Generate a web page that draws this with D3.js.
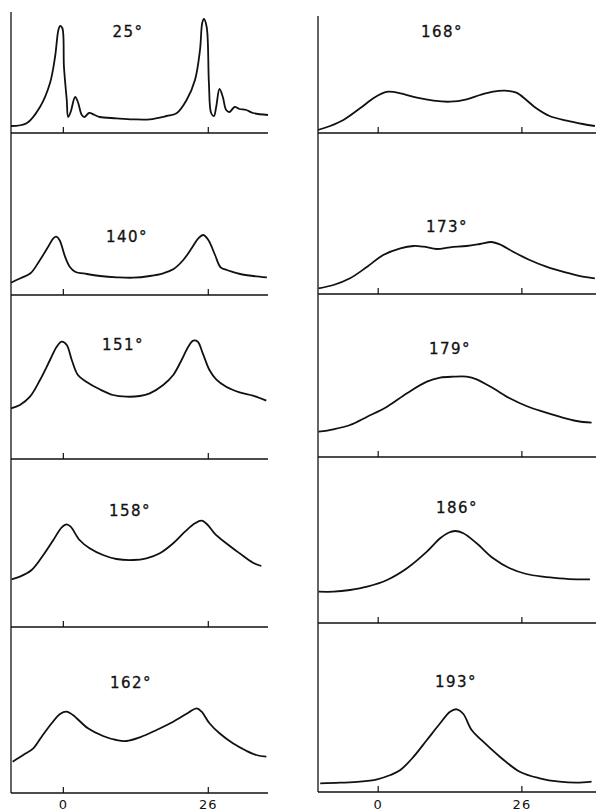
<!DOCTYPE html>
<html lang="en">
<head>
  <meta charset="UTF-8">
  <title>Spectra vs temperature</title>
  <script src="https://d3js.org/d3.v7.min.js"></script>
  <style>
    body { margin: 0; background: #fff; }
    svg { display: block; }
    .curve { fill: none; stroke: #111; stroke-width: 1.8; stroke-linejoin: round; }
    .axis-line { stroke: #111; stroke-width: 1.3; }
    .panel-label { font-family: "DejaVu Sans", sans-serif; font-size: 15px; letter-spacing: 1.5px; fill: #111; stroke: #111; stroke-width: 0.3; text-anchor: middle; }
    .tick-label { font-family: "DejaVu Sans", sans-serif; font-size: 13px; letter-spacing: 1px; fill: #111; text-anchor: middle; }
  </style>
</head>
<body>
<svg width="596" height="812"></svg>
<script>
  // x ticks shown on every baseline
  const tickValues = [0, 26];

  // panel labels (temperature)
  const leftLabels = ["25°", "140°", "151°", "158°", "162°"];
  const rightLabels = ["168°", "173°", "179°", "186°", "193°"];

  // series: [x, intensity]
  const s25 = [[-9.3,7],[-6.5,9.7],[-4.1,26],[-2.3,50],[-1.4,76],[-0.8,103],[-0.5,107],[-0.1,105],[0.2,66],[0.7,33],[0.95,16],[1.4,21],[2.2,36],[2.7,31],[3.4,18],[3.9,16],[4.7,20],[5.7,18],[6.6,16],[9.6,14.7],[12.6,13.7],[15.6,13.7],[18.6,17],[20.4,19.7],[22.2,33],[23.7,53],[24.6,83],[25.0,110],[25.3,114],[25.8,106],[26.2,50],[26.6,20],[27.1,17],[27.5,26],[28.1,44],[28.7,36],[29.3,23],[29.9,21],[30.8,26],[31.7,24],[32.9,23],[34.1,20],[36.8,18]];
  const s140 = [[-9.3,12.3],[-7.6,16.7],[-5.8,21.7],[-4.3,33.3],[-2.8,46.7],[-1.7,56.7],[-1.2,58.3],[-0.6,55],[0.4,38.3],[1.3,27.7],[2.2,23.3],[4.3,21],[6.7,19],[9.7,17.7],[12.6,17.3],[15.6,19],[18.0,21.7],[19.8,25.7],[21.6,35],[23.1,46.7],[24.3,56.7],[25.2,60],[26.1,55],[27.3,40],[28.3,27.7],[29.4,25],[30.3,23.3],[31.8,21],[34.2,19],[36.6,17.7]];
  const s151 = [[-9.3,50.7],[-7.7,54],[-5.9,62.3],[-4.1,79],[-2.3,99],[-1.1,112.3],[-0.2,117.3],[0.7,114],[1.6,99],[2.7,84],[4.2,77.3],[6.6,69.7],[9.0,64],[11.4,62.3],[13.8,63],[15.6,65.7],[18.0,74],[19.8,84],[21.3,99],[22.5,112.3],[23.4,118.3],[24.2,117.3],[25.1,105.7],[26.3,89],[27.5,79.7],[29.3,72.3],[31.7,66.7],[34.1,63.3],[36.5,58.3]];
  const s158 = [[-9.2,47.7],[-7.7,50.3],[-5.6,57],[-3.5,72],[-1.7,87],[-0.2,99.7],[0.7,102.7],[1.4,100.3],[3.0,87],[4.8,78.7],[7.2,72],[9.6,68],[12.6,67],[15.0,68.7],[17.4,73.7],[19.8,83.7],[21.9,95.3],[23.7,103.7],[24.9,106.3],[26.0,102],[27.2,93.7],[29.3,83.7],[31.7,73.7],[34.1,64.3],[35.6,61]];
  const s162 = [[-9.0,31.3],[-7.1,38],[-5.3,44.7],[-3.8,56.3],[-2.0,69.7],[-0.5,79],[0.7,81.3],[1.8,78],[4.5,64.7],[7.2,57],[9.6,53],[11.4,52],[13.8,55.7],[16.8,63],[19.8,71.3],[22.5,80.3],[24.0,84.7],[24.9,81.3],[26.3,69.7],[28.1,59.7],[30.5,49.7],[32.9,42.3],[34.7,38],[36.5,36.3]];
  const s168 = [[-10.8,3],[-8.6,7],[-6.2,13],[-3.2,24.7],[-0.8,34.7],[0.8,39.7],[1.9,41.3],[4.1,39.7],[7.1,35.3],[10.1,32.3],[13.1,31.3],[16.1,33.7],[18.5,38],[20.9,41.3],[23.0,42.3],[25.1,40.3],[26.9,33],[28.7,24.7],[31.1,17],[34.2,12.3],[37.1,9],[39.3,7]];
  const s173 = [[-10.7,5.7],[-8.0,9],[-5.0,15.7],[-1.9,27.3],[1.0,39],[4.1,45.7],[6.5,48],[8.3,47.3],[10.7,45],[13.1,46.7],[16.1,48],[18.5,50],[20.6,52],[22.1,49.7],[24.5,42.3],[27.5,34],[30.5,27.3],[34.2,21.3],[37.1,17.3],[39.3,15.7]];
  const s179 = [[-10.7,25.3],[-8.0,27.7],[-5.0,32],[-1.9,40.3],[1.7,50.3],[5.3,63.7],[8.9,75.3],[11.3,79.3],[13.7,80.3],[16.1,80.3],[17.9,77.7],[20.9,68.7],[23.9,58.7],[26.9,51],[29.9,45.3],[32.9,40.3],[36.0,36],[38.7,34.3]];
  const s186 = [[-10.7,31.3],[-8.0,31.3],[-5.0,33],[-1.9,36.3],[1.7,43],[5.3,54.7],[8.9,71.3],[11.3,84.7],[12.8,90.3],[14.0,92],[15.5,89.7],[17.9,79.7],[20.9,64.7],[23.9,54.7],[26.9,49],[29.9,46.3],[32.9,44.7],[36.0,43.7],[38.4,43.7]];
  const s193 = [[-10.4,8.7],[-6.8,9.3],[-3.2,10.3],[-0.1,12.7],[2.3,17],[4.1,22],[6.5,35.3],[8.9,52],[11.3,68.7],[13.1,80.3],[14.3,82.7],[15.5,78],[17.0,62],[19.1,50.3],[22.1,35.3],[25.7,20.3],[29.3,13.7],[32.9,10.3],[36.0,9.3],[38.7,10.3]];

  const leftSeries = [s25, s140, s151, s158, s162];
  const rightSeries = [s168, s173, s179, s186, s193];

  const svg = d3.select("svg");

  const columns = [
    {
      labels: leftLabels, series: leftSeries,
      xDomain: [-9.3, 36.8], xRange: [11, 268], top: 12,
      baselines: [133, 295, 459, 627, 793],
      labelPos: [[128, 37], [127, 242], [123, 350], [130, 516], [131, 688]]
    },
    {
      labels: rightLabels, series: rightSeries,
      xDomain: [-10.8, 39.5], xRange: [318, 596], top: 16,
      baselines: [133, 294, 457, 623, 792],
      labelPos: [[442, 37], [447, 232], [450, 354], [457, 513], [456, 687]]
    }
  ];

  columns.forEach(col => {
    const x = d3.scaleLinear().domain(col.xDomain).range(col.xRange);

    // left vertical axis spanning the whole column
    svg.append("line")
      .attr("class", "axis-line")
      .attr("x1", col.xRange[0]).attr("x2", col.xRange[0])
      .attr("y1", col.top).attr("y2", col.baselines[col.baselines.length - 1]);

    col.series.forEach((data, i) => {
      const base = col.baselines[i];
      const y = d3.scaleLinear().domain([0, 120]).range([base, base - 120]);
      const g = svg.append("g");

      // baseline with small upward ticks
      const axis = d3.axisTop(x).tickValues(tickValues).tickSize(6).tickFormat("");
      const ag = g.append("g")
        .attr("transform", `translate(0,${base})`)
        .call(axis);
      ag.select(".domain")
        .attr("d", `M${col.xRange[0]},0H${col.xRange[1]}`)
        .attr("stroke", "#111").attr("stroke-width", 1.5);
      ag.selectAll(".tick line").attr("stroke", "#111").attr("stroke-width", 1.2);

      const line = d3.line()
        .x(d => x(d[0]))
        .y(d => y(d[1]))
        .curve(d3.curveCatmullRom.alpha(0.5));

      g.append("path")
        .datum(data)
        .attr("class", "curve")
        .attr("d", line);

      g.append("text")
        .attr("class", "panel-label")
        .attr("x", col.labelPos[i][0])
        .attr("y", col.labelPos[i][1])
        .text(col.labels[i]);
    });

    // tick labels under the last panel
    svg.selectAll(null)
      .data(tickValues)
      .enter().append("text")
      .attr("class", "tick-label")
      .attr("x", d => x(d) + 0.5)
      .attr("y", 809)
      .text(d => d);
  });
</script>
</body>
</html>
